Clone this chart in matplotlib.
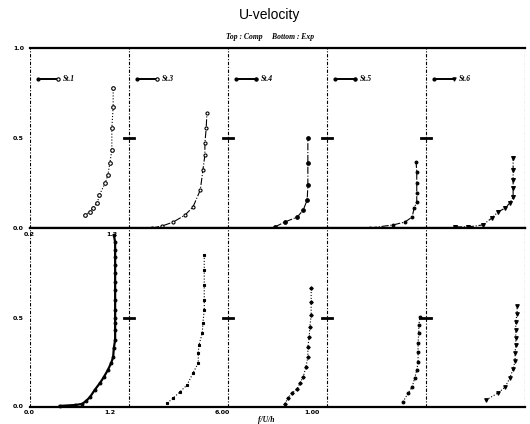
import numpy as np
import matplotlib.pyplot as plt

# station labels and markers
stations = ["St.1", "St.3", "St.4", "St.5", "St.6"]
width = 1.5  # u-units per station slot

# --- Top : Comp (u, y) ---
top_u = [
    [0.83, 0.91, 0.95, 1.02, 1.05, 1.14, 1.18, 1.21, 1.24, 1.24, 1.26, 1.26],
    [0.35, 0.50, 0.67, 0.85, 0.97, 1.08, 1.12, 1.15, 1.15, 1.17, 1.18],
    [0.71, 0.86, 1.05, 1.14, 1.20, 1.21, 1.21, 1.21],
    [0.65, 1.00, 1.18, 1.29, 1.32, 1.36, 1.36, 1.36, 1.36, 1.35],
    [0.44, 0.64, 0.86, 1.00, 1.09, 1.20, 1.27, 1.32, 1.32, 1.32, 1.32, 1.32],
]
top_y = [
    [0.072, 0.089, 0.111, 0.139, 0.183, 0.25, 0.294, 0.361, 0.433, 0.556, 0.672, 0.778],
    [0.0, 0.011, 0.033, 0.072, 0.117, 0.211, 0.322, 0.406, 0.472, 0.556, 0.639],
    [0.006, 0.033, 0.061, 0.10, 0.156, 0.239, 0.361, 0.50],
    [0.0, 0.017, 0.033, 0.061, 0.111, 0.144, 0.194, 0.25, 0.311, 0.367],
    [0.006, 0.006, 0.017, 0.056, 0.089, 0.111, 0.139, 0.172, 0.222, 0.267, 0.322, 0.389],
]

# --- Bottom : Exp (u, y) ---
bot_u = [
    [0.45, 0.68, 0.79, 0.85, 0.91, 0.98, 1.06, 1.12, 1.18, 1.23, 1.26, 1.27, 1.29,
     1.29, 1.29, 1.29, 1.29, 1.29, 1.29, 1.29, 1.29, 1.29, 1.29, 1.29, 1.29, 1.27],
    [0.58, 0.67, 0.77, 0.88, 0.97, 1.05, 1.05, 1.06, 1.11, 1.12, 1.14, 1.14, 1.14, 1.14, 1.14],
    [0.86, 0.91, 0.97, 1.05, 1.09, 1.14, 1.18, 1.21, 1.21, 1.23, 1.24, 1.26, 1.26, 1.26],
    [1.15, 1.23, 1.29, 1.33, 1.36, 1.38, 1.38, 1.38, 1.39, 1.39, 1.41],
    [0.91, 1.09, 1.20, 1.27, 1.32, 1.35, 1.35, 1.36, 1.36, 1.36, 1.36, 1.38, 1.38],
]
bot_y = [
    [0.006, 0.011, 0.017, 0.034, 0.056, 0.095, 0.134, 0.168, 0.207, 0.246, 0.279, 0.330, 0.374,
     0.430, 0.469, 0.497, 0.542, 0.598, 0.654, 0.698, 0.749, 0.793, 0.838, 0.877, 0.922, 0.961],
    [0.022, 0.050, 0.084, 0.123, 0.190, 0.246, 0.302, 0.346, 0.413, 0.469, 0.542, 0.598, 0.682, 0.765, 0.849],
    [0.017, 0.050, 0.078, 0.101, 0.134, 0.168, 0.223, 0.279, 0.335, 0.391, 0.447, 0.514, 0.587, 0.665],
    [0.028, 0.078, 0.112, 0.162, 0.207, 0.251, 0.307, 0.358, 0.413, 0.458, 0.503],
    [0.039, 0.078, 0.112, 0.162, 0.212, 0.257, 0.302, 0.346, 0.385, 0.430, 0.475, 0.520, 0.564],
]

top_style = [dict(marker='o', mfc='white', ms=2.6, ls=':'),
             dict(marker='o', mfc='white', ms=2.2, ls='-.'),
             dict(marker='o', mfc='black', ms=2.6, ls='-.'),
             dict(marker='o', mfc='black', ms=2.0, ls='-.'),
             dict(marker='v', mfc='black', ms=2.8, ls='-.')]
bot_style = [dict(marker='o', mfc='black', ms=2.0, ls='-', lw=1.6),
             dict(marker='s', mfc='black', ms=2.0, ls=':'),
             dict(marker='D', mfc='black', ms=1.8, ls=':'),
             dict(marker='o', mfc='black', ms=2.0, ls=':'),
             dict(marker='v', mfc='black', ms=2.6, ls=':')]

W, H = 530, 424
fig = plt.figure(figsize=(5.3, 4.24), dpi=100)
ax_top = fig.add_axes([30 / W, (H - 228) / H, 495 / W, 180 / H])
ax_bot = fig.add_axes([30 / W, (H - 407) / H, 495 / W, 179 / H])

for ax, us, ys, styles in [(ax_top, top_u, top_y, top_style), (ax_bot, bot_u, bot_y, bot_style)]:
    ax.set_xlim(0, width * len(stations))
    ax.set_ylim(0, 1)
    ax.set_xticks([])
    ax.set_yticks([])
    for s in ['left', 'right']:
        ax.spines[s].set_visible(False)
    for s in ['top', 'bottom']:
        ax.spines[s].set_linewidth(1.6)
    for k in range(len(stations) + 1):
        ax.axvline(k * width, color='black', lw=0.8, ls=(0, (3, 1.5, 1, 1.5)))
        if 0 < k < len(stations):
            ax.plot([k * width - 0.08, k * width + 0.08], [0.5, 0.5], color='black', lw=2)
    for k in range(len(stations)):
        off = k * width
        st = dict(styles[k])
        ax.plot(off + np.array(us[k]), ys[k], color='black', mec='black', mew=0.8,
                lw=st.pop('lw', 0.8), clip_on=False, **st)

# legend marks inside top panel
for k, name in enumerate(stations):
    off = k * width
    ax_top.plot([off + 0.12, off + 0.42], [0.83, 0.83], color='black', lw=1.4)
    ax_top.plot([off + 0.12], [0.83], marker='o', ms=2, color='black')
    ax_top.plot([off + 0.42], [0.83], marker=top_style[k]['marker'], ms=2.4,
                mfc=top_style[k]['mfc'], mec='black', mew=0.8)
    ax_top.text(off + 0.5, 0.83, name, fontsize=5.5, fontstyle='italic',
                fontweight='bold', va='center', family='Liberation Serif')

lab = dict(fontsize=4.5, fontweight='bold', ha='right', va='center')
fig.text(24 / W, 1 - 48 / H, "1.0", **lab)
fig.text(24 / W, 1 - 138 / H, "0.5", **lab)
fig.text(24 / W, 1 - 228 / H, "0.0", **lab)
fig.text(24 / W, 1 - 318 / H, "0.5", **lab)
fig.text(24 / W, 1 - 407 / H, "0.0", **lab)

xl = dict(fontsize=4.5, fontweight='bold', ha='center', va='center')
fig.text(29 / W, 1 - 234 / H, "0.2", **xl)
fig.text(112 / W, 1 - 234 / H, "1.2", **xl)
fig.text(29 / W, 1 - 413 / H, "0.0", **xl)
fig.text(110 / W, 1 - 413 / H, "1.2", **xl)
fig.text(222 / W, 1 - 413 / H, "6.00", **xl)
fig.text(312 / W, 1 - 413 / H, "1.00", **xl)
fig.text(266 / W, 1 - 420 / H, "f/U/h", fontsize=5.5, fontstyle='italic',
         fontweight='bold', ha='center', va='center', family='Liberation Serif')

fig.text(270 / W, 1 - 15 / H, "U-velocity", fontsize=10, ha='center', va='center',
         family='Liberation Sans')
fig.text(270 / W, 1 - 37 / H, "Top : Comp     Bottom : Exp", fontsize=5.5,
         fontstyle='italic', fontweight='bold', ha='center', va='center',
         family='Liberation Serif')

fig.savefig("out.png", dpi=100)
